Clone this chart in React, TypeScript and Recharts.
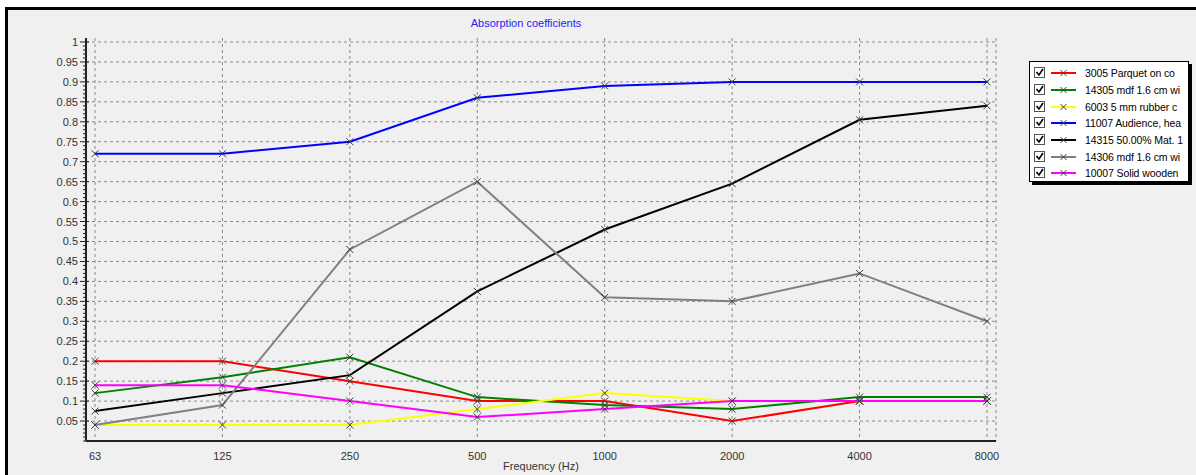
import { CartesianGrid, Line, LineChart, XAxis, YAxis } from 'recharts'

const frequencies = ['63', '125', '250', '500', '1000', '2000', '4000', '8000']

const parquet3005 = [0.2, 0.2, 0.15, 0.1, 0.1, 0.05, 0.1, 0.1]
const mdf14305 = [0.12, 0.16, 0.21, 0.11, 0.09, 0.08, 0.11, 0.11]
const rubber6003 = [0.04, 0.04, 0.04, 0.08, 0.12, 0.1, 0.1, 0.1]
const audience11007 = [0.72, 0.72, 0.75, 0.86, 0.89, 0.9, 0.9, 0.9]
const mat14315 = [0.075, 0.12, 0.165, 0.375, 0.53, 0.645, 0.805, 0.84]
const mdf14306 = [0.04, 0.09, 0.48, 0.65, 0.36, 0.35, 0.42, 0.3]
const solid10007 = [0.14, 0.14, 0.1, 0.06, 0.08, 0.1, 0.1, 0.1]

const majorTicks = [
  0.05, 0.1, 0.15, 0.2, 0.25, 0.3, 0.35, 0.4, 0.45, 0.5,
  0.55, 0.6, 0.65, 0.7, 0.75, 0.8, 0.85, 0.9, 0.95, 1,
]
// minor ticks every 0.01
const allTicks = Array.from({ length: 101 }, (_, i) => i / 100)

const series = [
  { key: 's3005', name: '3005 Parquet on co', color: '#ff0000', values: parquet3005 },
  { key: 's14305', name: '14305 mdf 1.6 cm wi', color: '#008000', values: mdf14305 },
  { key: 's6003', name: '6003 5 mm rubber c', color: '#ffff00', values: rubber6003 },
  { key: 's11007', name: '11007 Audience, hea', color: '#0000ff', values: audience11007 },
  { key: 's14315', name: '14315 50.00% Mat. 1', color: '#000000', values: mat14315 },
  { key: 's14306', name: '14306 mdf 1.6 cm wi', color: '#808080', values: mdf14306 },
  { key: 's10007', name: '10007 Solid wooden', color: '#ff00ff', values: solid10007 },
]

const data = frequencies.map((f, i) => {
  const row: Record<string, string | number> = { freq: f }
  series.forEach((s) => {
    row[s.key] = s.values[i]
  })
  return row
})

const font = '"Liberation Sans", Arial, sans-serif'

function CrossDot(props: any) {
  const { cx, cy, index } = props
  if (cx == null || cy == null) return <g key={index} />
  const r = 3.5
  return (
    <path
      key={index}
      d={`M${cx - r},${cy - r}L${cx + r},${cy + r}M${cx + r},${cy - r}L${cx - r},${cy + r}`}
      stroke="#404040"
      strokeWidth={1}
      fill="none"
    />
  )
}

function YTick(props: any) {
  const { x, y, payload } = props
  const hundredths = Math.round(payload.value * 100)
  const major = hundredths > 0 && hundredths % 5 === 0
  if (!major) {
    return <line x1={x - 3} x2={x} y1={y} y2={y} stroke="#222" strokeWidth={1} />
  }
  return (
    <g>
      <line x1={x - 6} x2={x + 3} y1={y} y2={y} stroke="#222" strokeWidth={1} />
      <text x={x - 8} y={y} dy={4} textAnchor="end" fill="#333" fontSize={11} fontFamily={font}>
        {payload.value}
      </text>
    </g>
  )
}

function LegendBox() {
  return (
    <div
      style={{
        position: 'absolute',
        left: 1021,
        top: 51,
        width: 160,
        height: 121,
        background: '#fff',
        border: '1px solid #000',
        boxShadow: '3px 3px 0 #000',
        boxSizing: 'border-box',
        paddingTop: 3,
        fontFamily: font,
        fontSize: 10.5,
        color: '#000',
      }}
    >
      {series.map((s) => (
        <div key={s.key} style={{ display: 'flex', alignItems: 'center', height: 16.7 }}>
          <svg width={52} height={14} style={{ flex: 'none', marginLeft: 3 }}>
            <rect x={1.5} y={1.5} width={10} height={10} fill="#fff" stroke="#555" />
            <path d="M3.5,6 L6,9 L10,3" stroke="#000" strokeWidth={1.6} fill="none" />
            <line x1={18} x2={43} y1={7} y2={7} stroke={s.color} strokeWidth={2} />
            <path d="M27.5,4 L33.5,10 M33.5,4 L27.5,10" stroke="#404040" strokeWidth={1} />
          </svg>
          <span style={{ whiteSpace: 'nowrap', letterSpacing: -0.1 }}>{s.name}</span>
        </div>
      ))}
    </div>
  )
}

export default function App() {
  return (
    <div style={{ position: 'absolute', left: 0, top: 0, width: 1196, height: 475, background: '#fff', overflow: 'hidden' }}>
      <div
        style={{
          position: 'absolute',
          left: 5,
          top: 7,
          width: 1191,
          height: 468,
          borderTop: '3px solid #000',
          borderLeft: '3px solid #000',
          background: '#f0f0f0',
          boxSizing: 'border-box',
        }}
      >
        <div
          style={{
            position: 'absolute',
            left: 418,
            top: 7,
            width: 200,
            textAlign: 'center',
            fontFamily: font,
            fontSize: 11,
            color: '#2222ff',
          }}
        >
          Absorption coefficients
        </div>
        <div style={{ position: 'absolute', left: 0, top: 0 }}>
          <LineChart width={1188} height={465} data={data} margin={{ top: 28, right: 200, bottom: 4, left: 28 }}>
            <CartesianGrid
              stroke="#8a8a8a"
              strokeDasharray="3 3"
              horizontalValues={majorTicks}
            />
            <XAxis
              dataKey="freq"
              padding={{ left: 9, right: 9 }}
              height={30}
              tickLine={false}
              tickMargin={5}
              interval={0}
              axisLine={{ stroke: '#222', strokeWidth: 2 }}
              tick={{ fill: '#333', fontSize: 11, fontFamily: font }}
              label={{
                value: 'Frequency (Hz)',
                position: 'insideBottom',
                offset: 1,
                fill: '#333',
                fontSize: 11,
                fontFamily: font,
              }}
            />
            <YAxis
              type="number"
              domain={[0, 1.01]}
              ticks={allTicks}
              interval={0}
              width={50}
              tickSize={0}
              tickMargin={0}
              tickLine={false}
              axisLine={{ stroke: '#222', strokeWidth: 2 }}
              tick={<YTick />}
              allowDataOverflow
            />
            {series.map((s) => (
              <Line
                key={s.key}
                type="linear"
                dataKey={s.key}
                name={s.name}
                stroke={s.color}
                strokeWidth={2}
                dot={CrossDot}
                activeDot={false}
                isAnimationActive={false}
              />
            ))}
          </LineChart>
        </div>
        <LegendBox />
      </div>
    </div>
  )
}
